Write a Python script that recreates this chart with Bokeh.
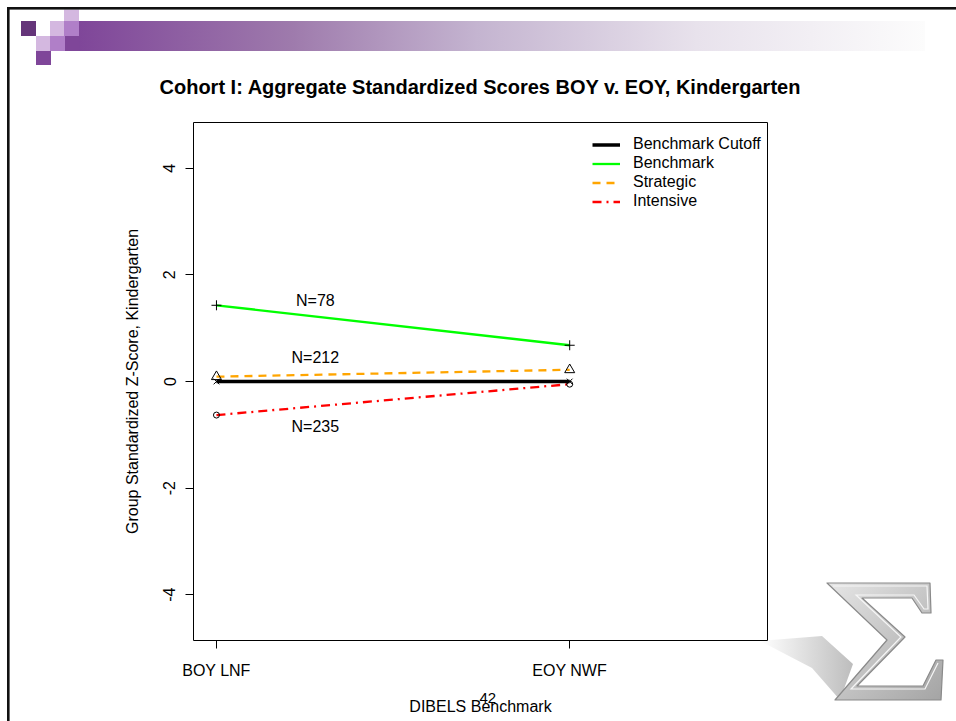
from urllib.parse import quote
from bokeh.plotting import figure
from bokeh.models import Range1d, FixedTicker, Legend, LegendItem, LinearAxis
from bokeh.core.properties import value
from bokeh.embed import file_html
from bokeh.resources import INLINE

# ---------------- data ----------------
timepoints = ["BOY LNF", "EOY NWF"]
x_pos = [1, 2]
cutoff = [0.0, 0.0]
benchmark = [1.43, 0.68]
strategic = [0.09, 0.22]
intensive = [-0.63, -0.05]
n_labels = ["N=78", "N=212", "N=235"]
n_label_x = [1.28, 1.28, 1.28]
n_label_y = [1.52, 0.45, -0.85]
y_ticks = [-4, -2, 0, 2, 4]
slide_number = "42"
slide_number_x = [1.768]

FONT = "Liberation Sans"

# ---------------- slide decoration (CSS background, page pixels) ----------------
svg = """<svg xmlns='http://www.w3.org/2000/svg' width='956' height='721' viewBox='0 0 956 721'>
<defs>
<linearGradient id='g' x1='0' x2='1' y1='0' y2='0'>
<stop offset='0' stop-color='#7f4699'/><stop offset='0.25' stop-color='#9e7aac'/>
<stop offset='0.47' stop-color='#c4b4d0'/><stop offset='0.73' stop-color='#e8e2ec'/>
<stop offset='1' stop-color='#fcfcfc'/></linearGradient>
<linearGradient id='s' x1='0' y1='0' x2='1' y2='1'>
<stop offset='0' stop-color='#e6e6e6'/><stop offset='0.45' stop-color='#c8c8c8'/>
<stop offset='1' stop-color='#a4a4a4'/></linearGradient>
<linearGradient id='sh' x1='0' y1='0' x2='1' y2='0'>
<stop offset='0' stop-color='#ffffff'/><stop offset='1' stop-color='#bdbdbd'/></linearGradient>
</defs>
<rect x='79' y='21' width='846' height='30' fill='url(#g)'/>
<rect x='21' y='21' width='15' height='15' fill='#65357a'/>
<rect x='50' y='21' width='14' height='15' fill='#d4b8e0'/>
<rect x='64' y='9.5' width='15' height='11.5' fill='#d4b8e0'/>
<rect x='64' y='21' width='15' height='15' fill='#b07fc8'/>
<rect x='36' y='36' width='14' height='15' fill='#d4b8e0'/>
<rect x='50' y='36' width='15' height='15' fill='#b07fc8'/>
<rect x='65' y='36' width='14.5' height='15' fill='#7f4699'/>
<rect x='36' y='51' width='15' height='14' fill='#7f4699'/>
<rect x='7' y='7' width='949' height='2.6' fill='#111111'/>
<rect x='7' y='7' width='2.6' height='714' fill='#111111'/>
<polygon points='760,641 822,636 853,664 840,700 812,668' fill='url(#sh)'/>
<polygon points='827,583 930,583 931,613 922,613 912,598 862,598 905,637 857,686 923,686 936,660 943,660 941,700 835,700 887,640'
 fill='url(#s)' stroke='#8a8a8a' stroke-width='1.2' stroke-linejoin='round'/>
<polyline points='833,586 927,586 928,609 924,609 914,595 856,595 901,637 851,689 925,689 938,663'
 fill='none' stroke='#f6f6f6' stroke-width='1.2'/>
</svg>"""
bg = 'url("data:image/svg+xml,' + quote(svg) + '")'

p = figure(width=956, height=721,
           x_range=Range1d(0.935, 2.56), y_range=Range1d(-4.86, 4.86),
           output_backend="svg", toolbar_location=None,
           min_border_left=193, min_border_right=189,
           min_border_top=122, min_border_bottom=81,
           styles={"background-image": bg, "background-repeat": "no-repeat",
                   "background-color": "white"})

p.xgrid.visible = False
p.ygrid.visible = False
p.outline_line_color = "black"
p.outline_line_width = 1
p.background_fill_color = "white"
p.border_fill_color = None

# title
p.title.text = "Cohort I: Aggregate Standardized Scores BOY v. EOY, Kindergarten"
p.title.align = "center"
p.title.text_font = FONT
p.title.text_font_size = "20px"
p.title.text_font_style = "bold"
p.title.text_color = "black"
p.title.standoff = 49

# axes
xa = p.xaxis[0]
xa.ticker = FixedTicker(ticks=x_pos)
xa.major_label_overrides = {x: t for x, t in zip(x_pos, timepoints)}
ya = p.yaxis[0]
ya.ticker = FixedTicker(ticks=y_ticks)
ya.major_label_overrides = {t: str(t) for t in y_ticks}
ya.axis_label = "Group Standardized Z-Score, Kindergarten"
ya.major_label_orientation = "vertical"

# second bottom axis carrying the slide number and the x-axis title
xb = LinearAxis(ticker=FixedTicker(ticks=slide_number_x),
                major_label_overrides={slide_number_x[0]: slide_number},
                axis_label="DIBELS Benchmark")
p.add_layout(xb, "below")

for ax in (xa, ya, xb):
    ax.axis_line_color = None
    ax.major_tick_line_color = "black"
    ax.major_tick_out = 8
    ax.major_tick_in = 0
    ax.minor_tick_line_color = None
    ax.major_label_text_font = FONT
    ax.major_label_text_font_size = "16px"
    ax.major_label_text_color = "black"
    ax.axis_label_text_font = FONT
    ax.axis_label_text_font_size = "16px"
    ax.axis_label_text_font_style = "normal"
    ax.axis_label_text_color = "black"
xa.major_label_standoff = 13
ya.major_label_standoff = 10
ya.axis_label_standoff = 20
xb.major_tick_line_color = None
xb.major_tick_out = 0
xb.major_label_text_font_size = "15px"
xb.major_label_standoff = 11
xb.axis_label_standoff = -8

# series
r_cut = p.line(x_pos, cutoff, line_color="black", line_width=3.5)
r_ben = p.line(x_pos, benchmark, line_color="#00ff00", line_width=2.3)
r_str = p.line(x_pos, strategic, line_color="#ffa500", line_width=2.3, line_dash="8 6")
r_int = p.line(x_pos, intensive, line_color="#ff0000", line_width=2.3, line_dash="9 5 2 5")

p.scatter(x_pos, cutoff, marker="x", size=8, line_color="black", line_width=1)
p.scatter(x_pos, benchmark, marker="cross", size=10, line_color="black", line_width=1)
p.scatter(x_pos, strategic, marker="triangle", size=10, line_color="black", fill_color=None, line_width=1)
p.scatter(x_pos, intensive, marker="circle", size=6, line_color="black", fill_color=None, line_width=1)

p.text(x=n_label_x, y=n_label_y, text=n_labels, text_font=value(FONT), text_font_size="16px",
       text_align="center", text_baseline="middle", text_color="black")

legend = Legend(items=[LegendItem(label="Benchmark Cutoff", renderers=[r_cut]),
                       LegendItem(label="Benchmark", renderers=[r_ben]),
                       LegendItem(label="Strategic", renderers=[r_str]),
                       LegendItem(label="Intensive", renderers=[r_int])],
                location=(399, 430), orientation="vertical",
                border_line_color=None, background_fill_alpha=0,
                padding=0, margin=0, spacing=1, glyph_width=28, glyph_height=15,
                label_height=15, label_standoff=13,
                label_text_font=FONT, label_text_font_size="16px",
                label_text_color="black")
p.add_layout(legend)

open("out.html", "w").write(file_html(p, INLINE))
